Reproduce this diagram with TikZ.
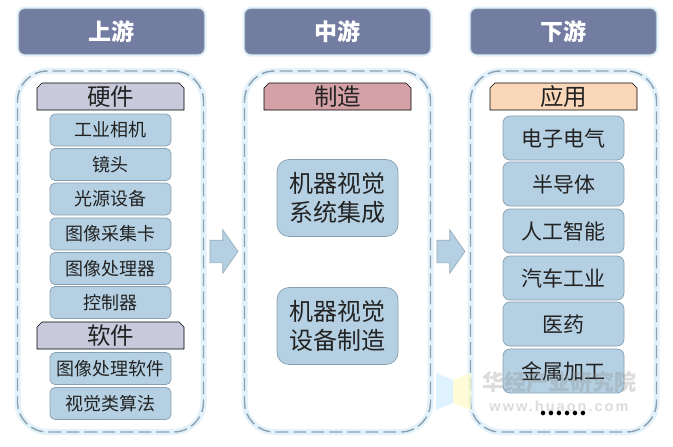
\documentclass[tikz,border=0pt]{standalone}
\usepackage{fontspec}
\setmainfont{Liberation Sans}
\newfontfamily\cjk{Noto Sans CJK SC}
\usetikzlibrary{shapes.misc,shapes.arrows}
\definecolor{hdr}{HTML}{737CA1}
\definecolor{hdrline}{HTML}{8593A8}
\definecolor{glow}{HTML}{E3F1FA}
\definecolor{dashc}{HTML}{8CA2B2}
\definecolor{item}{HTML}{B5D0E2}
\definecolor{itemline}{HTML}{87A0B2}
\definecolor{subA}{HTML}{C8C9DB}
\definecolor{subB}{HTML}{D4A2A6}
\definecolor{subC}{HTML}{FAD7B9}
\definecolor{txt}{HTML}{222222}
\tikzset{
  x=1pt,y=-1pt,
  every node/.style={inner sep=0pt,outer sep=0pt,align=center,font=\cjk,text=txt},
  header/.style={rectangle,rounded corners=6pt,minimum width=185pt,minimum height=45pt,fill=hdr,draw=hdrline,line width=.8pt,
    preaction={draw=glow,line width=5pt},text=white,font=\bfseries\cjk\fontsize{23}{25}\selectfont},
  panel/.style={rectangle,rounded corners=30pt,minimum width=186pt,minimum height=361pt,draw=dashc,line width=1.4pt,
    dash pattern=on 13pt off 5pt,preaction={draw=glow,solid,line width=6pt}},
  subhead/.style={chamfered rectangle,chamfered rectangle corners={north west,north east},chamfered rectangle xsep=2.5pt,chamfered rectangle ysep=2.5pt,
    minimum width=147pt,minimum height=27pt,draw=black,line width=.7pt,font=\cjk\fontsize{23.5}{25}\selectfont},
  smallitem/.style={rectangle,rounded corners=5pt,minimum width=121pt,minimum height=32pt,fill=item,draw=itemline,line width=.7pt,font=\cjk\fontsize{18}{20}\selectfont},
  biglist/.style={smallitem,rounded corners=7pt,minimum height=44pt,font=\cjk\fontsize{21}{23}\selectfont},
  sysbox/.style={smallitem,rounded corners=12pt,minimum height=77pt,font=\cjk\fontsize{24}{29.5}\selectfont},
  blockarrow/.style={single arrow,minimum width=43pt,minimum height=28pt,single arrow head extend=10.5pt,single arrow tip angle=110,
    shape border rotate=0,fill=item,draw=itemline!85,line width=.7pt},
  wmark/.style={text=black!45,opacity=.3,font=\bfseries\cjk\fontsize{22}{24}\selectfont},
  wurl/.style={text=black!45,opacity=.3,font=\bfseries\addfontfeature{LetterSpace=14}\fontsize{14.5}{16}\selectfont}
}
\begin{document}
\begin{tikzpicture}
\useasboundingbox (0,0) rectangle (673,447);
\fill[white] (0,0) rectangle (673,447);
% headers
\node[header] (h1) at (111.5,31.5) {上游};
\node[header] (h2) at (337.5,31.5) {中游};
\node[header] (h3) at (563.5,31.5) {下游};
% panels
\node[panel] (p1) at (110.5,251.5) {};
\node[panel] (p2) at (337.5,251.5) {};
\node[panel] (p3) at (563.5,251.5) {};
% upstream
\node[subhead,fill=subA] (s1) at (110.5,96.5) {硬件};
\node[smallitem] (a1) at (110.5,130) {工业相机};
\node[smallitem] (a2) at (110.5,164.5) {镜头};
\node[smallitem] (a3) at (110.5,199) {光源设备};
\node[smallitem] (a4) at (110.5,234) {图像采集卡};
\node[smallitem] (a5) at (110.5,268.5) {图像处理器};
\node[smallitem] (a6) at (110.5,302.5) {控制器};
\node[subhead,fill=subA] (s2) at (110.5,335.5) {软件};
\node[smallitem] (a7) at (110.5,368.5) {图像处理软件};
\node[smallitem] (a8) at (110.5,403.5) {视觉类算法};
% midstream
\node[subhead,fill=subB] (s3) at (337.5,96.5) {制造};
\node[sysbox] (b1) at (337.5,198) {机器视觉\\系统集成};
\node[sysbox] (b2) at (337.5,326) {机器视觉\\设备制造};
% downstream
\node[subhead,fill=subC] (s4) at (563.5,96.5) {应用};
\node[biglist] (c1) at (563.5,138) {电子电气};
\node[biglist] (c2) at (563.5,184) {半导体};
\node[biglist] (c3) at (563.5,231) {人工智能};
\node[biglist] (c4) at (563.5,278) {汽车工业};
\node[biglist] (c5) at (563.5,324) {医药};
\node[biglist] (c6) at (563.5,371) {金属加工};
\node[font=\bfseries\cjk\fontsize{21}{23}\selectfont,text=black] (c7) at (563.5,413) {……};
% arrows
\node[blockarrow] (ar1) at (220,251.5) {\rule{0pt}{22pt}};
\node[blockarrow] (ar2) at (447,251.5) {\rule{0pt}{22pt}};
% watermark
\fill[blue!40!cyan!18,opacity=.7] (436,373) -- (453,380) -- (453,403) -- (436,410) -- cycle;
\fill[yellow!22,opacity=.7] (453,380) -- (471,373) -- (471,410) -- (453,403) -- cycle;
\node[wmark] (w1) at (559,382) {华经产业研究院};
\node[wurl] (w2) at (559,406) {www.huaon.com};
\end{tikzpicture}
\end{document}
